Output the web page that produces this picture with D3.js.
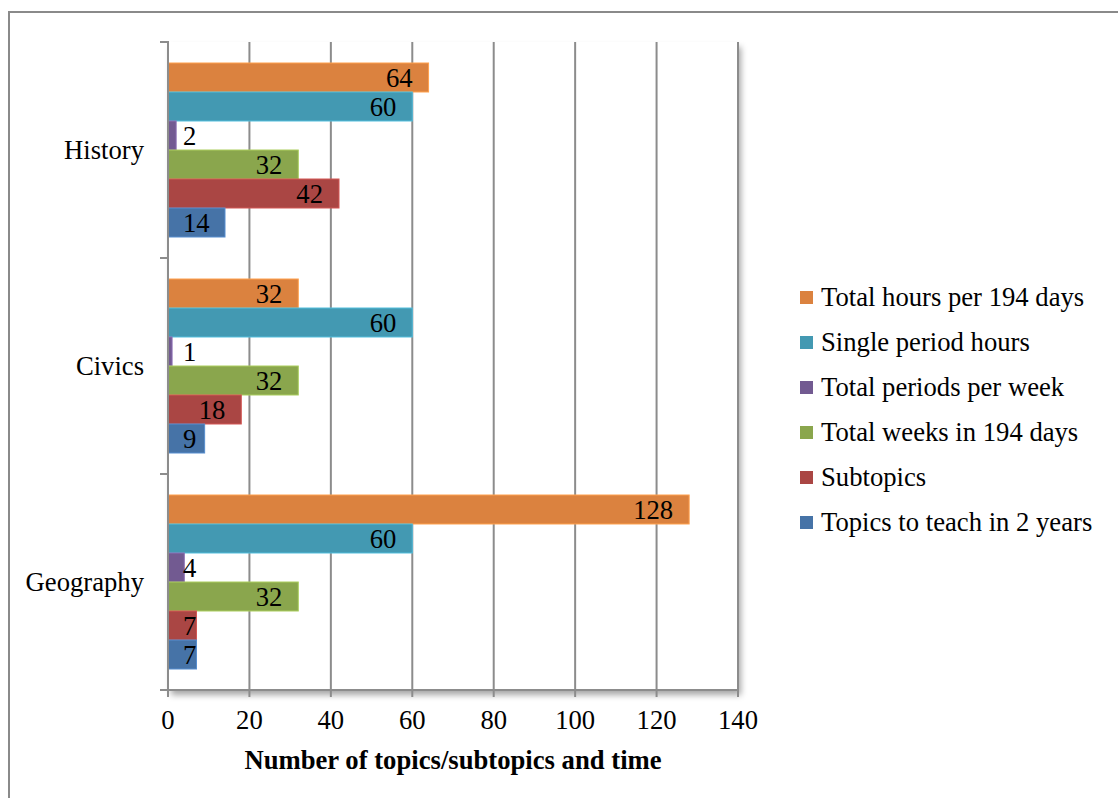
<!DOCTYPE html>
<html>
<head>
<meta charset="utf-8">
<script src="https://cdn.jsdelivr.net/npm/d3@7"></script>
<style>
  html, body { margin: 0; padding: 0; background: #fff; }
  svg { display: block; }
  text { font-family: "Liberation Serif", "Times New Roman", serif; fill: #000; }
</style>
</head>
<body>
<svg id="chart" width="1118" height="798"></svg>
<script>
// Subjects on the vertical axis
const categories = ["History", "Civics", "Geography"];

// Series, listed top to bottom within each subject
const seriesNames = [
  "Total hours per 194 days",
  "Single period hours",
  "Total periods per week",
  "Total weeks in 194 days",
  "Subtopics",
  "Topics to teach in 2 years"
];
const seriesColors = ["#DB823F", "#4399B2", "#725A91", "#8AA64D", "#AA4644", "#4673A7"];

// Values per series, in the order of categories
const totalHours   = [64, 32, 128];
const singlePeriod = [60, 60, 60];
const periodsWeek  = [2, 1, 4];
const totalWeeks   = [32, 32, 32];
const subtopics    = [42, 18, 7];
const topics       = [14, 9, 7];
const seriesValues = [totalHours, singlePeriod, periodsWeek, totalWeeks, subtopics, topics];

const xTicks = [0, 20, 40, 60, 80, 100, 120, 140];
const xTitle = "Number of topics/subtopics and time";

const svg = d3.select("#chart");
const FONT = 26.67;

// outer frame
svg.append("rect")
  .attr("x", 9).attr("y", 12).attr("width", 1130).attr("height", 810)
  .attr("fill", "none").attr("stroke", "#8a8a8a").attr("stroke-width", 2);

const plot = { left: 168, right: 738, top: 42, bottom: 690 };

const x = d3.scaleLinear().domain([0, 140]).range([plot.left, plot.right]);
const y = d3.scaleBand().domain(categories).range([plot.top, plot.bottom]).paddingInner(0).paddingOuter(0);
const ySub = d3.scaleBand().domain(seriesNames).range([0, y.bandwidth()]).paddingInner(0).paddingOuter(0.724);

// shadowed plot area
const defs = svg.append("defs");
const f = defs.append("filter").attr("id", "plotShadow")
  .attr("x", "-5%").attr("y", "-5%").attr("width", "115%").attr("height", "115%");
f.append("feDropShadow").attr("dx", 3).attr("dy", 5).attr("stdDeviation", 3)
  .attr("flood-color", "#000").attr("flood-opacity", 0.35);

svg.append("rect")
  .attr("x", plot.left).attr("y", plot.top)
  .attr("width", plot.right - plot.left).attr("height", plot.bottom - plot.top)
  .attr("fill", "#fff").attr("filter", "url(#plotShadow)");

// vertical gridlines
svg.append("g").selectAll("line").data(xTicks.filter(d => d > 0)).join("line")
  .attr("x1", d => x(d)).attr("x2", d => x(d))
  .attr("y1", plot.top).attr("y2", plot.bottom)
  .attr("stroke", "#8c8c8c").attr("stroke-width", 2);

// bars
const groups = svg.append("g").selectAll("g").data(categories).join("g")
  .attr("transform", c => `translate(0,${y(c)})`);

groups.each(function(c, ci) {
  const g = d3.select(this);
  seriesNames.forEach((s, si) => {
    const v = seriesValues[si][ci];
    g.append("rect")
      .attr("x", x(0)).attr("y", ySub(s))
      .attr("width", x(v) - x(0)).attr("height", ySub.bandwidth())
      .attr("fill", seriesColors[si])
      .attr("stroke", d3.color(seriesColors[si]).brighter(0.6)).attr("stroke-width", 1);
  });
});

// value labels: inside the end of the bar, kept clear of the axis for short bars
groups.each(function(c, ci) {
  const g = d3.select(this);
  seriesNames.forEach((s, si) => {
    const v = seriesValues[si][ci];
    const t = g.append("text")
      .attr("y", ySub(s) + ySub.bandwidth() / 2)
      .attr("dy", "0.35em")
      .attr("font-size", FONT)
      .text(v);
    const w = t.node().getComputedTextLength();
    const left = Math.max(x(v) - 16 - w, x(0) + 15);
    t.attr("x", left);
  });
});

// y axis line and ticks
svg.append("line")
  .attr("x1", plot.left).attr("x2", plot.left)
  .attr("y1", plot.top - 1).attr("y2", plot.bottom)
  .attr("stroke", "#8c8c8c").attr("stroke-width", 2);
const yTickPos = categories.map(c => y(c)).concat([plot.bottom]);
svg.append("g").selectAll("line").data(yTickPos).join("line")
  .attr("x1", plot.left - 8).attr("x2", plot.left)
  .attr("y1", d => d).attr("y2", d => d)
  .attr("stroke", "#8c8c8c").attr("stroke-width", 2);

// category labels
svg.append("g").selectAll("text").data(categories).join("text")
  .attr("x", 144).attr("y", c => y(c) + y.bandwidth() / 2)
  .attr("dy", "0.35em").attr("text-anchor", "end")
  .attr("font-size", FONT)
  .text(c => c);

// x axis line, ticks, labels
svg.append("line")
  .attr("x1", plot.left - 8).attr("x2", plot.right)
  .attr("y1", plot.bottom).attr("y2", plot.bottom)
  .attr("stroke", "#8c8c8c").attr("stroke-width", 2);
svg.append("g").selectAll("line").data(xTicks).join("line")
  .attr("x1", d => x(d)).attr("x2", d => x(d))
  .attr("y1", plot.bottom).attr("y2", plot.bottom + 7)
  .attr("stroke", "#8c8c8c").attr("stroke-width", 2);
svg.append("g").selectAll("text").data(xTicks).join("text")
  .attr("x", d => x(d)).attr("y", 720)
  .attr("dy", "0.35em").attr("text-anchor", "middle")
  .attr("font-size", FONT)
  .text(d => d);

svg.append("text")
  .attr("x", (plot.left + plot.right) / 2).attr("y", 760)
  .attr("dy", "0.35em").attr("text-anchor", "middle")
  .attr("font-size", FONT).attr("font-weight", "bold")
  .text(xTitle);

// legend
const legend = svg.append("g").selectAll("g").data(seriesNames).join("g")
  .attr("transform", (d, i) => `translate(800,${297 + i * 45})`);
legend.append("rect")
  .attr("x", 0).attr("y", -6).attr("width", 13).attr("height", 13)
  .attr("fill", (d, i) => seriesColors[i]);
legend.append("text")
  .attr("x", 21).attr("y", 0).attr("dy", "0.35em")
  .attr("font-size", FONT)
  .text(d => d);
</script>
</body>
</html>
